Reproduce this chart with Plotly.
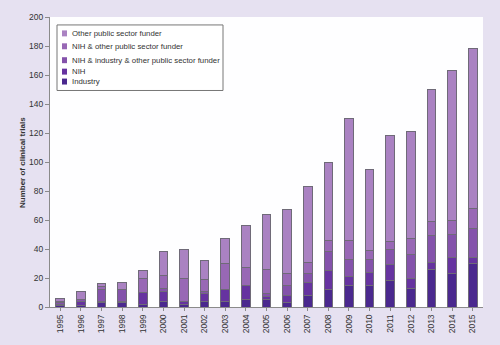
import plotly.graph_objects as go

years = [str(y) for y in range(1995, 2016)]
industry = [1, 1, 3, 3, 2, 4, 2, 4, 4, 5, 5, 3, 8, 12, 15, 15, 18, 13, 26, 23, 30]
nih = [1, 3, 1, 1, 8, 7, 2, 5, 8, 10, 2, 5, 9, 13, 6, 9, 11, 7, 5, 11, 4]
nih_ind_other = [1, 1, 8, 8, 0, 2, 0, 2, 0, 0, 2, 7, 6, 13, 12, 9, 11, 16, 18, 16, 20]
nih_other = [1, 0, 2, 0, 10, 9, 16, 8, 18, 12, 17, 8, 8, 8, 13, 6, 5, 11, 10, 10, 14]
other = [2, 6, 2, 5, 5, 16, 20, 13, 17, 29, 38, 44, 52, 54, 84, 56, 73, 74, 91, 103, 110]

series = [
    ("Industry", industry, "#4a288e"),
    ("NIH", nih, "#6633a0"),
    ("NIH & industry & other public sector funder", nih_ind_other, "#8452ab"),
    ("NIH & other public sector funder", nih_other, "#9868b5"),
    ("Other public sector funder", other, "#aa82c2"),
]

W, H = 500, 345
L, R, T, B = 50, 17, 16, 37
PW, PH = W - L - R, H - T - B


def px_x(p):
    return (p - L) / PW


def px_y(p):
    return (H - B - p) / PH


fig = go.Figure()
for name, vals, col in series:
    fig.add_trace(go.Bar(
        x=years, y=vals, name=name, showlegend=False,
        marker=dict(color=col, line=dict(color="#6f6a78", width=1)),
    ))

font = "Liberation Sans, Arial, Helvetica, sans-serif"

# manual legend (box, swatches, labels)
shapes = [dict(type="rect", xref="paper", yref="paper",
               x0=px_x(57), x1=px_x(223), y0=px_y(90), y1=px_y(24),
               line=dict(color="#777777", width=1), fillcolor="#ffffff")]
annotations = []
row_y = [81, 71, 59.5, 45.5, 32.5]  # Industry ... Other
for (name, vals, col), ry in zip(series, row_y):
    shapes.append(dict(type="rect", xref="paper", yref="paper",
                       x0=px_x(62), x1=px_x(67), y0=px_y(ry + 3), y1=px_y(ry - 3),
                       line=dict(width=0), fillcolor=col))
    annotations.append(dict(text=name, xref="paper", yref="paper",
                            x=px_x(69.5), y=px_y(ry), xanchor="left", yanchor="middle",
                            showarrow=False, font=dict(size=7.8, color="#333333")))

annotations.append(dict(
    text="<b>Number of clinical trials</b>", textangle=-90,
    xref="paper", yref="paper", x=px_x(22), y=0.5, xanchor="center", yanchor="middle",
    showarrow=False, font=dict(size=8, color="#333333"),
))

fig.update_layout(
    width=W, height=H,
    barmode="stack", bargap=0.58,
    paper_bgcolor="#e6e1f1", plot_bgcolor="#fefeff",
    margin=dict(l=L, r=R, t=T, b=B),
    font=dict(family=font, size=8.5, color="#333333"),
    showlegend=False,
    xaxis=dict(
        type="category", range=[-0.5, 20.5], tickangle=-90,
        showline=True, linecolor="#8a8a8a", linewidth=1,
        ticks="outside", ticklen=3, tickcolor="#8a8a8a",
        showgrid=False, tickfont=dict(size=8.5),
    ),
    yaxis=dict(
        range=[0, 200], dtick=20, showline=True, linecolor="#8a8a8a",
        linewidth=1, ticks="outside", ticklen=4, tickcolor="#8a8a8a",
        showgrid=False, zeroline=False, tickfont=dict(size=8.5),
    ),
    shapes=shapes,
    annotations=annotations,
)

fig.write_html("out.html")
